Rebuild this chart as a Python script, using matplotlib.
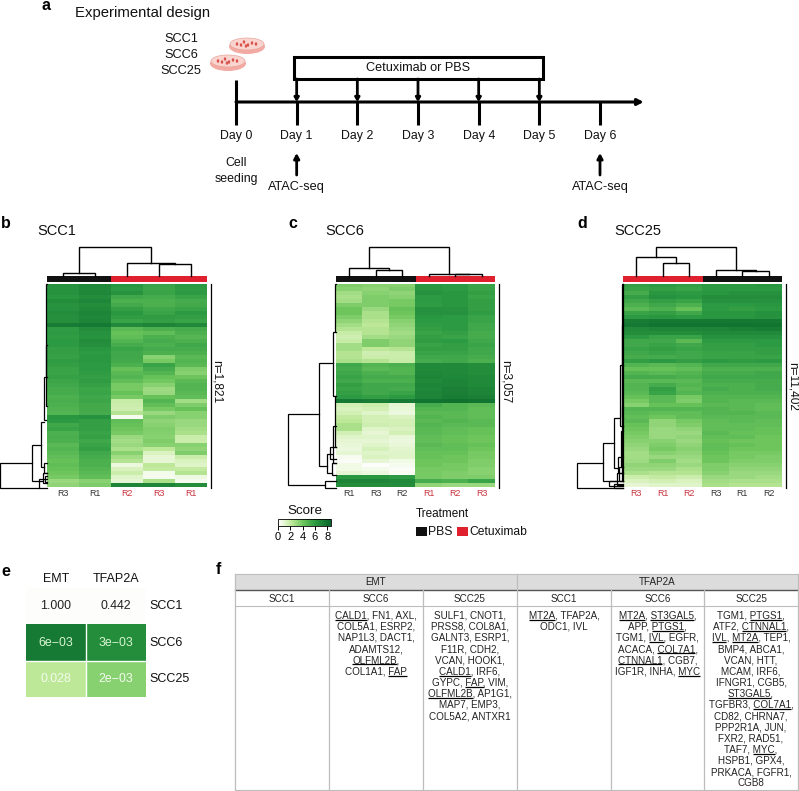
import numpy as np
import matplotlib
matplotlib.use("Agg")
import matplotlib.pyplot as plt
from matplotlib.colors import LinearSegmentedColormap
from matplotlib.patches import Ellipse, Rectangle
from matplotlib.cm import ScalarMappable
from matplotlib.colors import Normalize

plt.rcParams['font.family'] = ['Liberation Sans', 'DejaVu Sans']

W, H = 799, 791

# timeline
days = [0, 1, 2, 3, 4, 5, 6]
treated_days = [1, 2, 3, 4, 5]
atac_days = [1, 6]
cell_lines = ['SCC1', 'SCC6', 'SCC25']

# heatmaps, scores
scc1_cols = ['R3', 'R1', 'R2', 'R3', 'R1']
scc1_is_cetux = [0, 0, 1, 1, 1]
scc1_scores = [
    [6.4, 6.9, 6.2, 5.6, 6.0], [6.3, 6.8, 6.0, 5.5, 5.9], [6.4, 6.9, 6.3, 5.6, 6.0],
    [6.2, 6.6, 5.4, 5.2, 5.6], [6.6, 6.9, 5.0, 5.0, 5.2], [6.3, 6.6, 5.3, 5.0, 5.3],
    [6.4, 6.8, 5.8, 5.4, 5.6], [6.6, 7.0, 6.2, 5.6, 6.0], [6.5, 6.9, 5.9, 5.9, 5.8],
    [6.5, 7.0, 5.6, 5.8, 5.6], [7.4, 7.6, 6.8, 7.0, 6.8], [5.9, 6.6, 4.6, 5.0, 5.2],
    [6.0, 6.4, 4.2, 4.4, 5.0], [5.9, 6.3, 4.4, 5.0, 4.7], [6.0, 6.6, 4.8, 5.2, 5.0],
    [6.0, 6.5, 5.2, 5.0, 5.4], [5.8, 6.2, 5.6, 5.2, 5.2], [5.8, 6.0, 5.4, 5.0, 5.0],
    [5.7, 6.1, 5.4, 3.4, 4.6], [5.9, 6.1, 5.3, 3.8, 4.8], [5.8, 6.0, 5.0, 5.6, 4.6],
    [5.6, 6.0, 4.2, 5.2, 3.6], [5.6, 5.9, 4.6, 4.8, 3.4], [5.7, 5.8, 4.8, 4.2, 4.0],
    [5.5, 5.9, 4.4, 3.9, 4.6], [5.4, 5.7, 3.8, 3.4, 4.8], [5.2, 5.5, 3.8, 2.9, 4.8],
    [5.2, 5.6, 4.2, 3.0, 4.6], [5.0, 5.4, 3.8, 4.2, 4.4], [5.1, 5.5, 1.9, 4.8, 2.8],
    [5.0, 5.3, 1.8, 4.4, 3.6], [4.9, 5.3, 1.7, 3.8, 4.2], [4.8, 5.2, 2.4, 3.0, 3.4],
    [6.2, 6.4, 0.4, 3.6, 3.4], [6.0, 5.8, 4.4, 3.2, 3.0], [5.4, 5.8, 4.2, 3.4, 3.0],
    [5.6, 5.8, 4.0, 3.6, 2.8], [5.0, 5.6, 3.8, 3.5, 2.6], [5.1, 5.7, 3.0, 3.4, 1.8],
    [5.0, 5.4, 2.8, 3.6, 1.8], [4.6, 5.6, 3.0, 3.4, 3.4], [4.8, 5.8, 2.6, 2.2, 3.2],
    [4.6, 5.4, 3.4, 1.4, 3.6], [4.4, 5.2, 2.8, 1.0, 1.8], [4.2, 5.0, 2.4, 1.0, 1.4],
    [4.4, 5.0, 0.8, 2.2, 1.2], [4.2, 4.8, 1.4, 2.0, 2.0], [4.0, 4.6, 1.8, 0.5, 2.4],
    [3.8, 4.4, 1.2, 0.4, 0.7], [3.0, 3.4, 1.0, 2.6, 0.4], [3.2, 3.6, 7.0, 7.0, 6.6],
]

scc6_cols = ['R1', 'R3', 'R2', 'R1', 'R2', 'R3']
scc6_is_cetux = [0, 0, 0, 1, 1, 1]
scc6_scores = [
    [3.6, 3.4, 3.4, 6.2, 6.0, 5.6], [3.4, 3.2, 3.6, 6.2, 6.0, 5.6], [2.8, 3.4, 3.2, 6.4, 6.2, 5.8],
    [2.6, 3.6, 3.4, 6.0, 6.2, 5.6], [2.8, 3.6, 3.8, 6.0, 6.2, 5.8], [3.6, 3.6, 3.8, 5.9, 6.2, 5.8],
    [4.0, 3.0, 4.2, 6.4, 6.3, 5.8], [4.0, 2.6, 4.0, 6.4, 6.4, 5.9], [3.6, 2.6, 3.8, 6.2, 6.0, 5.6],
    [3.2, 2.4, 3.4, 6.0, 6.0, 5.6], [2.8, 2.2, 3.2, 5.9, 6.0, 5.4], [2.4, 2.4, 3.0, 5.8, 6.0, 5.4],
    [1.9, 2.4, 2.8, 5.6, 5.8, 5.2], [1.7, 2.8, 3.0, 5.8, 5.6, 5.2], [1.9, 3.6, 3.2, 5.9, 6.0, 5.4],
    [2.8, 3.6, 3.2, 5.6, 5.8, 5.6], [2.8, 2.2, 2.4, 5.8, 5.8, 5.4], [2.4, 1.7, 1.8, 5.6, 5.6, 5.4],
    [2.4, 1.8, 1.8, 5.4, 5.4, 5.2], [2.6, 2.4, 1.9, 5.2, 5.4, 5.0], [5.4, 4.8, 5.0, 6.8, 6.8, 6.6],
    [5.2, 4.6, 4.8, 6.8, 6.8, 6.6], [5.4, 5.0, 4.8, 6.9, 6.8, 6.6], [5.6, 5.2, 5.2, 7.0, 6.9, 6.8],
    [5.4, 5.0, 5.0, 6.8, 7.0, 6.8], [5.8, 5.4, 5.4, 7.0, 7.0, 6.8], [5.6, 5.4, 5.2, 6.9, 7.2, 7.0],
    [5.8, 5.4, 5.6, 7.0, 7.2, 7.0], [6.0, 5.8, 6.0, 7.0, 7.4, 7.2], [7.6, 7.4, 7.5, 7.8, 7.9, 7.8],
    [1.6, 1.8, 1.0, 5.2, 4.8, 4.6], [1.4, 1.6, 0.9, 4.8, 4.8, 4.4], [1.6, 1.2, 0.8, 4.6, 4.6, 4.4],
    [2.0, 1.6, 1.4, 4.8, 4.6, 4.4], [2.2, 1.6, 1.6, 4.6, 4.8, 4.6], [2.6, 1.7, 1.6, 4.8, 4.6, 4.6],
    [2.6, 1.2, 1.4, 4.6, 4.4, 4.2], [1.6, 1.0, 1.6, 4.6, 4.4, 4.2], [1.2, 1.2, 0.9, 4.4, 4.2, 4.0],
    [1.0, 1.0, 0.8, 4.4, 4.2, 4.0], [0.9, 1.2, 0.9, 4.6, 4.4, 4.2], [0.8, 1.5, 1.1, 4.4, 4.4, 4.0],
    [1.0, 1.2, 1.2, 4.2, 4.2, 3.8], [0.4, 1.4, 1.2, 4.2, 4.0, 3.8], [0.2, 1.0, 0.6, 4.0, 4.0, 3.6],
    [0.6, 0.1, 0.4, 4.0, 3.8, 3.6], [0.6, 0.5, 0.2, 3.8, 3.8, 3.4], [1.0, 0.8, 0.3, 3.8, 3.6, 3.4],
    [6.2, 6.2, 6.0, 3.8, 3.6, 3.6], [7.0, 7.0, 6.8, 5.2, 5.0, 5.6], [6.6, 6.6, 6.6, 3.2, 3.0, 3.0],
]

scc25_cols = ['R3', 'R1', 'R2', 'R3', 'R1', 'R2']
scc25_is_cetux = [1, 1, 1, 0, 0, 0]
scc25_scores = [
    [5.8, 6.0, 5.8, 6.0, 6.0, 6.2], [5.6, 5.8, 5.6, 6.0, 6.0, 6.0], [5.2, 6.2, 6.0, 6.2, 6.4, 6.4],
    [5.8, 6.4, 6.2, 6.6, 6.6, 6.6], [5.4, 5.8, 5.6, 6.4, 6.4, 6.4], [5.0, 5.4, 5.0, 6.0, 6.0, 6.2],
    [4.6, 5.0, 4.2, 6.0, 5.8, 6.0], [5.6, 5.8, 5.4, 6.2, 6.2, 6.4], [6.0, 6.2, 6.0, 6.2, 6.2, 6.4],
    [7.4, 7.6, 7.6, 7.6, 7.6, 7.6], [7.6, 7.8, 7.8, 7.8, 7.8, 7.8], [6.8, 7.0, 7.0, 7.0, 7.2, 7.4],
    [6.6, 6.6, 6.6, 6.8, 6.8, 6.8], [6.0, 5.6, 5.6, 6.4, 6.4, 6.4], [5.4, 5.4, 4.6, 6.0, 6.0, 6.0],
    [5.4, 5.6, 5.4, 5.8, 5.8, 6.0], [5.6, 5.8, 5.6, 5.8, 5.8, 5.8], [5.4, 5.6, 5.4, 5.6, 5.6, 5.8],
    [5.2, 5.2, 5.4, 5.6, 5.6, 5.6], [5.8, 6.0, 5.8, 6.0, 5.9, 6.0], [4.8, 4.6, 4.8, 5.4, 5.4, 5.4],
    [4.2, 4.2, 4.4, 5.0, 5.0, 5.0], [4.8, 4.6, 4.8, 5.2, 5.2, 5.4], [5.2, 5.2, 5.0, 5.4, 5.4, 5.4],
    [4.6, 4.6, 4.6, 5.2, 5.2, 5.2], [4.8, 5.2, 4.8, 5.0, 5.0, 5.2], [4.8, 5.8, 4.6, 5.2, 5.0, 5.2],
    [4.6, 5.6, 4.8, 5.0, 5.0, 5.0], [4.2, 4.6, 3.8, 4.8, 4.8, 4.8], [3.8, 4.6, 3.6, 4.8, 4.6, 4.6],
    [3.4, 4.2, 4.2, 4.6, 4.6, 4.4], [4.8, 4.8, 4.8, 4.8, 4.6, 4.4], [4.6, 4.4, 4.4, 4.8, 4.8, 4.6],
    [4.4, 4.0, 4.4, 4.6, 4.6, 4.6], [4.6, 3.2, 3.8, 4.4, 4.6, 4.4], [4.2, 3.2, 3.6, 4.4, 4.4, 4.4],
    [4.0, 3.0, 3.2, 4.4, 4.4, 4.2], [3.8, 3.0, 3.0, 4.6, 4.2, 4.2], [3.6, 3.0, 3.2, 4.4, 4.4, 4.0],
    [3.4, 3.4, 3.0, 4.2, 4.0, 4.0], [3.2, 3.6, 3.2, 4.4, 4.2, 4.0], [3.0, 3.8, 3.4, 4.4, 4.0, 4.0],
    [2.8, 3.4, 3.2, 4.2, 3.8, 3.8], [2.8, 3.0, 3.0, 4.0, 3.8, 3.6], [2.9, 3.6, 2.8, 4.0, 3.6, 3.6],
    [3.2, 3.2, 3.0, 3.6, 3.4, 3.4], [3.0, 3.0, 2.6, 3.6, 3.2, 3.2], [2.6, 2.4, 2.4, 3.4, 3.0, 3.0],
    [1.8, 2.0, 1.8, 3.0, 3.0, 2.8], [1.4, 1.6, 1.4, 2.8, 2.6, 2.6], [1.0, 1.2, 1.2, 2.6, 2.4, 2.4],
]

# dendrogram links: (a, height_a, b, height_b, height)
scc1_top = [(0.5, 0, 1.5, 0, .11), (3.5, 0, 4.5, 0, .40), (2.5, 0, 4.0, .40, .43), (1.0, .11, 3.25, .43, 1)]
scc6_top = [(1.5, 0, 2.5, 0, .19), (0.5, 0, 2.0, .19, .28), (4.5, 0, 5.5, 0, .06), (3.5, 0, 5.0, .06, .08),
            (1.25, .28, 4.25, .08, 1)]
scc25_top = [(1.5, 0, 2.5, 0, .45), (0.5, 0, 2.0, .45, .64), (4.5, 0, 5.5, 0, .17), (3.5, 0, 5.0, .17, .19),
             (1.25, .64, 4.25, .19, 1)]
scc1_left = [(.88, .32, 1.0, .18, 1), (.79, .13, .967, .09, .32), (.68, .07, .90, .07, .13),
             (.456, .03, .67, .02, .07), (0, 0, .456, 0, .02), (.30, 0, .60, 0, .03),
             (.88, 0, .93, 0, .07), (.93, 0, .98, 0, .09), (.96, 0, 1.0, 0, .18), (.945, 0, .975, 0, .05)]
scc6_left = [(.64, .345, .99, .225, 1), (.387, .07, .895, .19, .345), (.234, .03, .55, .03, .07),
             (0, 0, .234, 0, .03), (.55, 0, .80, 0, .03), (.833, .08, .93, .08, .19), (.80, 0, .86, 0, .13),
             (.70, 0, .88, 0, .06), (.88, 0, .94, 0, .08), (.97, 0, 1.0, 0, .225)]
scc25_left = [(.88, .42, 1.0, .0, 1), (.78, .19, .967, .12, .42), (.66, .09, .906, .116, .19),
              (0, 0, .66, 0, .03), (.40, 0, .70, 0, .06), (.72, 0, .90, 0, .05),
              (.85, 0, .93, 0, .116), (.90, 0, .97, 0, .08), (.93, 0, .99, 0, .12), (.97, 0, .995, 0, .30),
              (.985, 0, 1.0, 0, .20), (0, 0, .97, 0, .01), (.60, 0, .97, 0, .02), (.20, 0, .70, 0, .02)]

# panel e
e_cols = ['EMT', 'TFAP2A']
e_rows = ['SCC1', 'SCC6', 'SCC25']
e_labels = [['1.000', '0.442'], ['6e\u221203', '3e\u221203'], ['0.028', '2e\u221203']]
e_scores = [[0.08, 0.1], [7.5, 6.6], [2.2, 3.4]]
e_text = [['#222222', '#222222'], ['#d8f5d0', '#d8f5d0'], ['#f4fbee', '#f4fbee']]

# panel f, *...* means underlined
f_groups = ['EMT', 'TFAP2A']
f_cols = ['SCC1', 'SCC6', 'SCC25', 'SCC1', 'SCC6', 'SCC25']
f_cells = [
    [],
    ['*CALD1*, FN1, AXL,', 'COL5A1, ESRP2,', 'NAP1L3, DACT1,', 'ADAMTS12,', '*OLFML2B*,', 'COL1A1, *FAP*'],
    ['SULF1, CNOT1,', 'PRSS8, COL8A1,', 'GALNT3, ESRP1,', 'F11R, CDH2,', 'VCAN, HOOK1,', '*CALD1*, IRF6,',
     'GYPC, *FAP*, VIM,', '*OLFML2B*, AP1G1,', 'MAP7, EMP3,', 'COL5A2, ANTXR1'],
    ['*MT2A*, TFAP2A,', 'ODC1, IVL'],
    ['*MT2A*, *ST3GAL5*,', 'APP, *PTGS1*,', 'TGM1, *IVL*, EGFR,', 'ACACA, *COL7A1*,', '*CTNNAL1*, CGB7,',
     'IGF1R, INHA, *MYC*'],
    ['TGM1, *PTGS1*,', 'ATF2, *CTNNAL1*,', '*IVL*, *MT2A*, TEP1,', 'BMP4, ABCA1,', 'VCAN, HTT,', 'MCAM, IRF6,',
     'IFNGR1, CGB5,', '*ST3GAL5*,', 'TGFBR3, *COL7A1*,', 'CD82, CHRNA7,', 'PPP2R1A, JUN,', 'FXR2, RAD51,',
     'TAF7, *MYC*,', 'HSPB1, GPX4,', 'PRKACA, FGFR1,', 'CGB8'],
]

red = '#e0202f'
red_text = '#c9323c'
grey_text = '#333333'
score_cmap = LinearSegmentedColormap.from_list(
    'score', [(0, '#ffffff'), (0.125, '#e4f6d0'), (0.25, '#bfe99a'), (0.47, '#6cc55c'),
              (0.7, '#2c9a42'), (1, '#08642a')])
score_norm = Normalize(0, 8.6)

fig = plt.figure(figsize=(W / 100, H / 100), dpi=100)
bg = fig.add_axes([0, 0, 1, 1])
bg.set_xlim(0, W)
bg.set_ylim(H, 0)
bg.axis('off')


def px_axes(x0, y0, x1, y1):
    ax = fig.add_axes([x0 / W, 1 - y1 / H, (x1 - x0) / W, (y1 - y0) / H])
    ax.axis('off')
    return ax


def draw_links(ax, links, vertical=True, lw=1.0):
    for a, ha, b, hb, h in links:
        if vertical:
            ax.plot([a, a, b, b], [ha, h, h, hb], color='black', lw=lw, solid_joinstyle='miter')
        else:
            ax.plot([ha, h, h, hb], [a, a, b, b], color='black', lw=lw, solid_joinstyle='miter')


def clustered_heatmap(x0, x1, left_x, scores, cols, is_cetux, top, left, title, title_x, n_label, n_x, n_y):
    scores = np.array(scores)
    ax = px_axes(x0, 284, x1, 487.5)
    ax.imshow(scores, aspect='auto', cmap=score_cmap, norm=score_norm, interpolation='nearest',
              extent=(0, len(cols), 1, 0))
    bar = px_axes(x0, 276, x1, 282)
    bar.set_xlim(0, len(cols))
    bar.set_ylim(0, 1)
    for i, c in enumerate(is_cetux):
        bar.add_patch(Rectangle((i, 0), 1, 1, color=red if c else '#111111', lw=0))
    den = px_axes(x0, 246.5, x1, 276)
    den.set_xlim(0, len(cols))
    den.set_ylim(0, 1)
    draw_links(den, top)
    den_l = px_axes(left_x, 284, x0, 487.5)
    den_l.set_xlim(1, 0)
    den_l.set_ylim(1, 0)
    draw_links(den_l, left, vertical=False, lw=0.9)
    for line in den.lines + den_l.lines:
        line.set_clip_on(False)
    for i, c in enumerate(cols):
        bg.text(x0 + (i + .5) * (x1 - x0) / len(cols), 494, c, fontsize=6.4, ha='center', va='center',
                color=red_text if is_cetux[i] else grey_text)
    bg.plot([x1 + 3.5, x1 + 3.5], [284, 488], color='black', lw=0.9)
    bg.text(n_x, n_y, n_label, rotation=270, fontsize=8.6, ha='center', va='center', color='#111111')
    bg.text(title_x, 231, title, fontsize=10.5, ha='left', va='center', color='#111111')


# a: design
for lab, x, y in [('a', 42, 6), ('b', 1, 223), ('c', 288, 223), ('d', 577, 223), ('e', 1, 572), ('f', 216, 570)]:
    bg.text(x, y, lab, fontsize=11.5, fontweight='bold', ha='left', va='center', color='black')

bg.text(75, 13, 'Experimental design', fontsize=10.7, ha='left', va='center', color='#111111')
for name, y in zip(cell_lines, [39, 55, 71]):
    bg.text(181, y, name, fontsize=9.2, ha='center', va='center', color='#111111')

for cx, cy in [(247, 44), (228, 61)]:
    bg.add_patch(Ellipse((cx, cy + 2.5), 36, 15, fc='#f2aaa2', ec='none', zorder=2))
    bg.add_patch(Ellipse((cx, cy), 34, 12, fc='#fad5cf', ec='#e7a59d', lw=0.5, zorder=3))
    for dx, dy in [(-10, 0), (-6, 1), (-3, -2), (1, 1), (5, -1), (9, 0), (-1, 2)]:
        bg.add_patch(Ellipse((cx + dx, cy + dy), 2.5, 3.5, fc='#d9534f', ec='none', zorder=4))

tl = px_axes(236, 70, 600, 180)
tl.set_xlim(days[0], days[-1])
tl.set_ylim(180, 70)
tl.annotate('', xy=(6.72, 102), xytext=(0, 102), annotation_clip=False,
            arrowprops=dict(arrowstyle='-|>,head_width=0.18,head_length=0.35', color='black', lw=2.2,
                            shrinkA=0, shrinkB=0))
for d in days:
    tl.plot([d, d], [102, 125], color='black', lw=2.2, solid_capstyle='butt', clip_on=False)
    bg.text(236 + d * 60.67, 136, 'Day %d' % d, fontsize=8.9, ha='center', va='center', color='#111111')
tl.plot([0, 0], [80, 102], color='black', lw=2.2, solid_capstyle='butt', clip_on=False)
for d in treated_days:
    tl.annotate('', xy=(d, 102), xytext=(d, 79), annotation_clip=False,
                arrowprops=dict(arrowstyle='-|>,head_width=0.13,head_length=0.22', color='black', lw=2.0,
                                shrinkA=0, shrinkB=0))
for d in atac_days:
    tl.annotate('', xy=(d, 153), xytext=(d, 175), annotation_clip=False,
                arrowprops=dict(arrowstyle='-|>,head_width=0.16,head_length=0.3', color='black', lw=2.0,
                                shrinkA=0, shrinkB=0))
    bg.text(236 + d * 60.67, 187, 'ATAC-seq', fontsize=9.2, ha='center', va='center', color='#111111')
bg.add_patch(Rectangle((293.5, 57), 249, 22, fc='white', ec='black', lw=2.2, zorder=3))
bg.text(418, 68, 'Cetuximab or PBS', fontsize=9.1, ha='center', va='center', color='#111111', zorder=4)
bg.text(236, 163, 'Cell', fontsize=8.9, ha='center', va='center', color='#111111')
bg.text(236, 179, 'seeding', fontsize=8.9, ha='center', va='center', color='#111111')

# b, c, d
clustered_heatmap(47, 207, 0, scc1_scores, scc1_cols, scc1_is_cetux, scc1_top, scc1_left,
                  'SCC1', 37.5, 'n=1,821', 217, 382)
clustered_heatmap(336, 495, 288, scc6_scores, scc6_cols, scc6_is_cetux, scc6_top, scc6_left,
                  'SCC6', 325, 'n=3,057', 506, 382)
clustered_heatmap(623, 782, 576.5, scc25_scores, scc25_cols, scc25_is_cetux, scc25_top, scc25_left,
                  'SCC25', 614, 'n=11,402', 793, 386)

# score colour bar
cax = fig.add_axes([278 / W, 1 - 526 / H, 53 / W, 7 / H])
cb = fig.colorbar(ScalarMappable(norm=score_norm, cmap=score_cmap), cax=cax, orientation='horizontal')
cb.set_ticks([0, 2, 4, 6, 8])
cb.ax.tick_params(labelsize=8, length=3, width=0.7, pad=1.5, color='black')
cb.outline.set_linewidth(0.6)
bg.text(305, 511, 'Score', fontsize=9.6, ha='center', va='center', color='#111111')

# treatment legend
bg.text(416, 514, 'Treatment', fontsize=8.5, ha='left', va='center', color='#111111')
bg.add_patch(Rectangle((416, 527), 11, 9, fc='#111111', ec='none'))
bg.text(428, 532, 'PBS', fontsize=8.8, ha='left', va='center', color='#111111')
bg.add_patch(Rectangle((457, 527), 11, 9, fc=red, ec='none'))
bg.text(469, 532, 'Cetuximab', fontsize=8.7, ha='left', va='center', color='#111111')

# e
ax_e = px_axes(26, 588, 146, 697)
ax_e.imshow(np.array(e_scores), aspect='auto', cmap=score_cmap, norm=score_norm, interpolation='nearest',
            extent=(0, 2, 3, 0))
ax_e.set_xlim(0, 2)
ax_e.set_ylim(3, 0)
ax_e.plot([1, 1], [1, 3], color='white', lw=1)
ax_e.plot([0, 2], [2, 2], color='white', lw=1)
for r, row in enumerate(e_labels):
    for c, lab in enumerate(row):
        ax_e.text(c + .5, r + .5, lab, fontsize=8.9, ha='center', va='center', color=e_text[r][c])
    bg.text(149.5, 588 + (r + .5) * 109 / 3, e_rows[r], fontsize=9, ha='left', va='center', color='#111111')
for c, lab in enumerate(e_cols):
    bg.text(26 + (c + .5) * 60, 579, lab, fontsize=9, ha='center', va='center', color='#111111')

# f
tx = [235, 329, 423, 517, 611, 704, 798]
grid = '#bdbdbd'
bg.add_patch(Rectangle((tx[0], 574), tx[6] - tx[0], 16, fc='#dcdcdc', ec='none'))
bg.plot([tx[0], tx[6]], [590, 590], color='#555555', lw=1)
bg.plot([tx[0], tx[6]], [606, 606], color=grid, lw=0.8)
bg.plot([tx[0], tx[6]], [790, 790], color=grid, lw=0.8)
bg.plot([tx[0], tx[6]], [574, 574], color=grid, lw=0.8)
for i, x in enumerate(tx):
    bg.plot([x, x], [574 if i in (0, 3, 6) else 590, 790], color=grid, lw=0.9)
for i, g in enumerate(f_groups):
    bg.text((tx[i * 3] + tx[i * 3 + 3]) / 2, 582, g, fontsize=7.1, ha='center', va='center', color='#222222')
for i, c in enumerate(f_cols):
    bg.text((tx[i] + tx[i + 1]) / 2, 598.5, c, fontsize=7.1, ha='center', va='center', color='#222222')

renderer = fig.canvas.get_renderer()


def text_w(s):
    t = bg.text(0, 0, s, fontsize=7.1)
    w = t.get_window_extent(renderer).width
    t.remove()
    return w


for i, cell in enumerate(f_cells):
    mid = (tx[i] + tx[i + 1]) / 2
    for j, line in enumerate(cell):
        y = 618.5 + j * 11.18
        parts = line.split('*')
        plain = ''.join(parts)
        start = mid - text_w(plain) / 2
        bg.text(mid, y, plain, fontsize=7.1, ha='center', va='baseline', color='#222222')
        pos = 0
        for k, part in enumerate(parts):
            if k % 2 == 1:
                a = start + text_w(plain[:pos]) if pos else start
                b = start + text_w(plain[:pos + len(part)])
                bg.plot([a, b], [y + 1.2, y + 1.2], color='black', lw=0.9, solid_capstyle='butt')
            pos += len(part)

fig.savefig('out.png', dpi=100)
